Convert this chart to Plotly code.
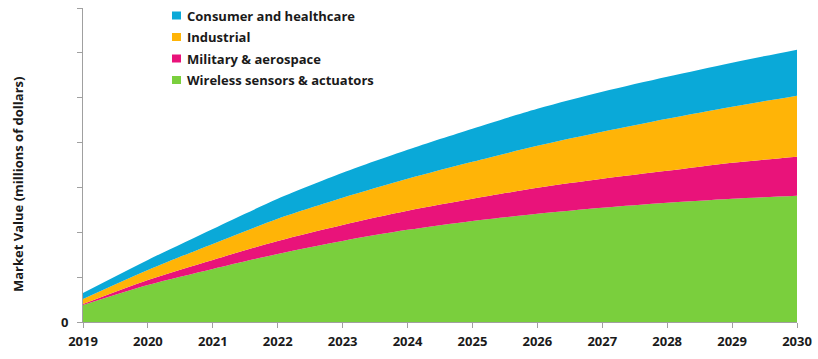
import plotly.graph_objects as go

years = list(range(2019, 2031))
wireless = [380, 826, 1183, 1518, 1808, 2054, 2254, 2411, 2545, 2656, 2746, 2813]
military = [22, 112, 201, 290, 357, 424, 491, 580, 647, 714, 804, 870]
industrial = [112, 223, 357, 491, 603, 714, 826, 937, 1049, 1161, 1250, 1362]
consumer = [134, 223, 335, 446, 558, 647, 737, 826, 893, 937, 982, 1027]

series = [
    ("Wireless sensors & actuators", wireless, "#7ACF3D"),
    ("Military & aerospace", military, "#E9137A"),
    ("Industrial", industrial, "#FFB407"),
    ("Consumer and healthcare", consumer, "#0AA9D8"),
]

y_ticks = [0, 1000, 2000, 3000, 4000, 5000, 6000, 7000]
y_ticktext = ["0", "", "", "", "", "", "", ""]

FONT = "Open Sans"
W, H = 818, 359
L, R, T, B = 83, 21, 8, 37
PW, PH = W - L - R, H - T - B

fig = go.Figure()
for name, vals, col in series:
    fig.add_trace(go.Scatter(
        x=years, y=vals, name=name, stackgroup="one", mode="lines",
        line=dict(width=0, color=col, shape="spline", smoothing=0.8),
        fillcolor=col, showlegend=False, hoverinfo="skip"))

# custom legend (top to bottom: reversed stack order)
shapes, annotations = [], []
for i, (name, vals, col) in enumerate(reversed(series)):
    cy = 15.5 + i * 21.5
    shapes.append(dict(type="rect", xref="paper", yref="paper",
                       x0=(172 - L) / PW, x1=(181 - L) / PW,
                       y0=(H - B - (cy + 4)) / PH, y1=(H - B - (cy - 4)) / PH,
                       fillcolor=col, line=dict(width=0)))
    annotations.append(dict(text=name, xref="paper", yref="paper",
                            x=(185 - L) / PW, y=(H - B - cy) / PH,
                            xanchor="left", yanchor="middle", showarrow=False,
                            font=dict(family=FONT, size=13, color="#1a1a1a", weight="bold")))

annotations.append(dict(text="Market Value (millions of dollars)", textangle=-90,
                        xref="paper", yref="paper", x=(18 - L) / PW, y=(H - B - 185) / PH,
                        xanchor="center", yanchor="middle", showarrow=False,
                        font=dict(family=FONT, size=13, color="#1a1a1a", weight="bold")))

fig.update_layout(
    width=W, height=H,
    margin=dict(l=L, r=R, t=T, b=B, autoexpand=False),
    paper_bgcolor="white", plot_bgcolor="white",
    font=dict(family=FONT, size=13, color="#1a1a1a"),
    showlegend=False,
    xaxis=dict(range=[2019, 2030], tickmode="array", tickvals=years,
               ticktext=[str(y) for y in years], automargin=False,
               showgrid=False, zeroline=False, showline=True, linecolor="#a0a0a0",
               linewidth=1, ticks="outside", ticklen=5, tickcolor="#a0a0a0",
               ticklabelstandoff=2,
               tickfont=dict(family=FONT, size=13, color="#1a1a1a", weight="bold")),
    yaxis=dict(range=[0, 7000], tickmode="array", tickvals=y_ticks, ticktext=y_ticktext,
               automargin=False,
               showgrid=False, zeroline=False, showline=True, linecolor="#a0a0a0",
               linewidth=1, ticks="outside", ticklen=5, tickcolor="#a0a0a0",
               ticklabelstandoff=6,
               tickfont=dict(family=FONT, size=13, color="#1a1a1a", weight="bold")),
    shapes=shapes,
    annotations=annotations,
)

fig.write_html("out.html", config={"displayModeBar": False},
               post_script="document.body.style.margin='0px';")
